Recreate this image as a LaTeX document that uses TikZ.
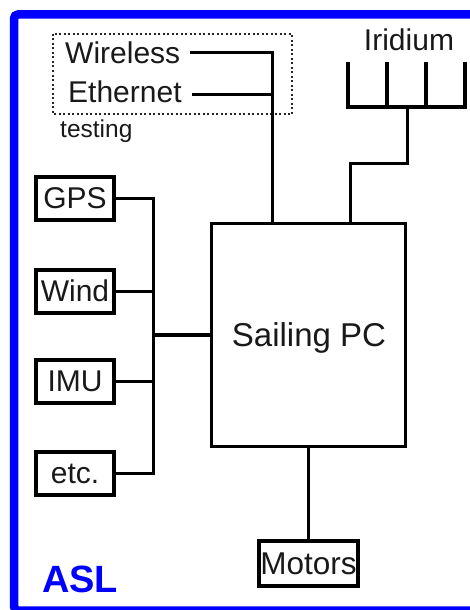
\documentclass[tikz,border=0pt]{standalone}
\usepackage{fontspec}
\setmainfont{Liberation Sans}
\begin{document}
\begin{tikzpicture}[x=1pt,y=-1pt,
  every node/.style={font=\fontsize{30}{36}\selectfont, text=black!90},
  conn/.style={line width=3pt},
  sensor/.style={draw, line width=4pt, minimum width=78pt, minimum height=43pt, inner sep=0pt},
  pcbox/.style={draw, line width=3pt, minimum width=194pt, minimum height=223pt, inner sep=0pt},
  motorbox/.style={draw, line width=4pt, minimum width=99pt, minimum height=45pt, inner sep=0pt},
  antenna/.style={line width=4.5pt},
  framecol/.style={draw=blue, line width=8.5pt, rounded corners=4pt},
  testframe/.style={draw=black!85, line width=2pt, dash pattern=on 2pt off 2.5pt}
  ]
\useasboundingbox (0,0) rectangle (469,610);
\fill[white] (0,0) rectangle (469,610);
% blue frame
\path[framecol] (14,14.5) rectangle (485,610.5);

% testing box
\path[testframe] (53,34) rectangle (292,114);
\node[anchor=west, inner sep=0pt] (wireless) at (65,53) {Wireless};
\node[anchor=west, inner sep=0pt] (ethernet) at (68,92) {Ethernet};
\node[anchor=west, inner sep=0pt, font=\fontsize{24.5}{29}\selectfont] (testing) at (60,131) {testing};

% Sailing PC
\node[pcbox] (pc) at (308.5,335) {};
\node[inner sep=0pt, font=\fontsize{33}{40}\selectfont] (pclabel) at (309,338) {Sailing PC};

% sensors
\node[sensor] (gps) at (75,198.5) {GPS};
\node[sensor] (wind) at (75,291) {Wind};
\node[sensor] (imu) at (75,381) {IMU};
\node[sensor] (etc) at (75,473.5) {etc.};

% motors
\node[motorbox, font=\fontsize{31.5}{38}\selectfont] (motors) at (308.5,563.5) {Motors};

% Iridium
\node[inner sep=0pt] (iridium) at (409,40) {Iridium};
\draw[antenna] (348,62) -- (348,107);
\draw[antenna] (387,62) -- (387,107);
\draw[antenna] (426,62) -- (426,107);
\draw[antenna] (465,62) -- (465,107);
\draw[antenna] (346,107) -- (467,107);
\coordinate (ant) at (407,107);
\coordinate (bend) at (350,163);

% ASL
\node[anchor=west, inner sep=0pt, text=blue, font=\bfseries\fontsize{38}{44}\selectfont] (asl) at (42,579) {ASL};

% connectors
\coordinate (wj) at (272,53);
\draw[conn] ([xshift=10pt]wireless.east) -- (wj) -- (wj |- pc.north);
\draw[conn] ([xshift=10pt]ethernet.east |- 0,94) -- (272,94);
\draw[conn] (ant) |- (bend) -- (bend |- pc.north);

\coordinate (bus) at (153,335);
\draw[conn] (gps.east) -| (bus) |- (etc.east);
\draw[conn] (wind.east) -- (wind.east -| bus);
\draw[conn] (imu.east) -- (imu.east -| bus);
\draw[line width=4pt] (bus) -- (pc.west);

\draw[conn] (pc.south) -- (motors.north);
\end{tikzpicture}
\end{document}
